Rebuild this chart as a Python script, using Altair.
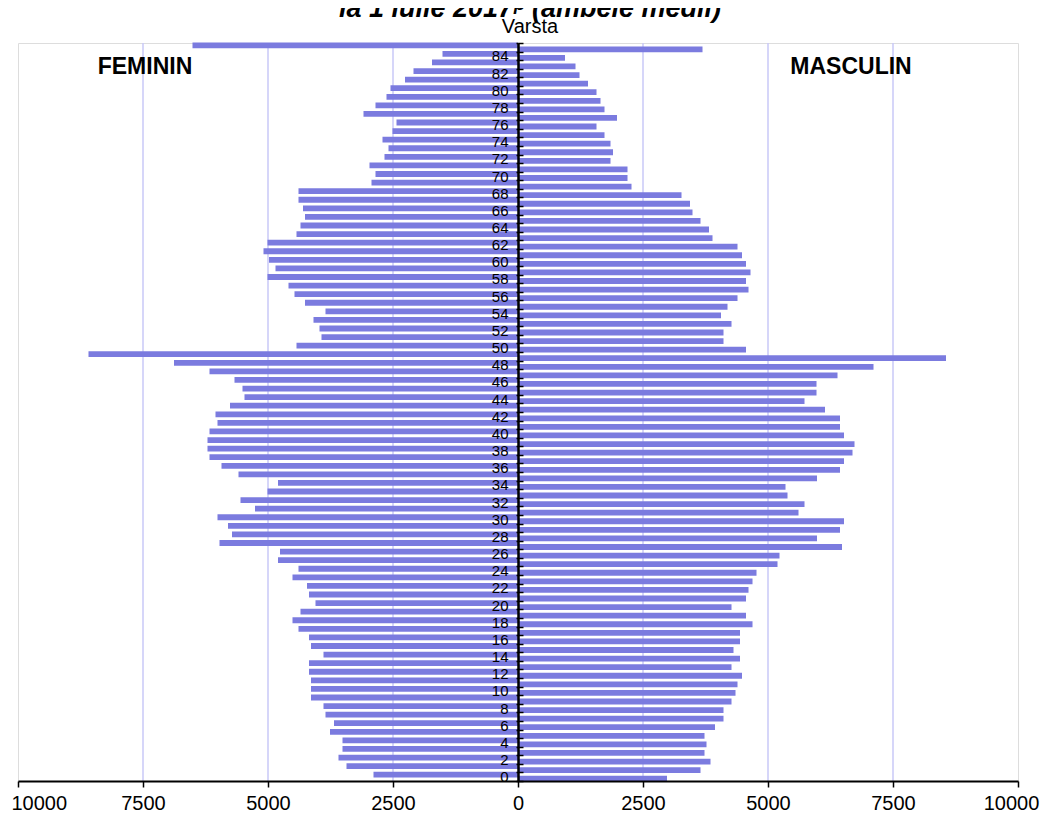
import altair as alt
import pandas as pd

# ---- data ----
ages = list(range(86))  # 85 stands for "85+"
female = [2890, 3430, 3590, 3510, 3510, 3760, 3680, 3850, 3890, 4140,
          4140, 4140, 4180, 4180, 3890, 4140, 4180, 4390, 4510, 4350,
          4050, 4180, 4220, 4510, 4390, 4800, 4760, 5970, 5720, 5800,
          6010, 5260, 5550, 5010, 4800, 5590, 5930, 6170, 6210, 6210,
          6170, 6010, 6050, 5760, 5470, 5510, 5670, 6170, 6880, 8590,
          4430, 3930, 3970, 4090, 3850, 4260, 4470, 4590, 5010, 4850,
          4980, 5090, 5010, 4430, 4350, 4260, 4300, 4390, 4390, 2930,
          2850, 2970, 2670, 2590, 2710, 2510, 2430, 3090, 2850, 2630,
          2550, 2260, 2090, 1720, 1510, 6510]
male = [2980, 3650, 3850, 3730, 3770, 3730, 3940, 4110, 4110, 4270,
        4350, 4390, 4480, 4270, 4440, 4310, 4440, 4440, 4690, 4560,
        4270, 4560, 4610, 4690, 4770, 5190, 5230, 6480, 5980, 6440,
        6520, 5610, 5730, 5390, 5350, 5980, 6440, 6520, 6690, 6730,
        6520, 6440, 6440, 6140, 5730, 5970, 5970, 6390, 7110, 8560,
        4560, 4110, 4110, 4270, 4060, 4190, 4390, 4610, 4560, 4650,
        4560, 4480, 4390, 3890, 3820, 3650, 3490, 3440, 3270, 2270,
        2190, 2190, 1850, 1900, 1850, 1730, 1570, 1980, 1730, 1650,
        1570, 1400, 1230, 1150, 940, 3690]
x_ticks = [-10000, -7500, -5000, -2500, 0, 2500, 5000, 7500, 10000]
grid_values = [-7500, -5000, -2500, 2500, 5000, 7500]
title_text = "la 1 iulie 2017ᵖ (ambele medii)"
axis_title = "Varsta"
side_labels = ["FEMININ", "MASCULIN"]

df = pd.DataFrame({
    "age": ages + ages,
    "sex": ["F"] * len(ages) + ["M"] * len(ages),
    "x": [-v for v in female] + male,
})
grid_df = pd.DataFrame({"x": grid_values})

BAR = "#7b7bdf"
FRAME = "#7b7bdf"
GRID = "#c9c9f7"
FONT = "Liberation Sans"

xscale = alt.Scale(domain=[-10000, 10000], nice=False, zero=True)
yscale = alt.Scale(paddingInner=0, paddingOuter=0)

x_axis = alt.Axis(
    values=x_ticks, labelExpr="abs(datum.value)", grid=False,
    domainColor="black", domainWidth=2, tickColor="black", tickWidth=1.5,
    tickSize=6, labelFont=FONT, labelFontSize=20, labelColor="black",
    labelPadding=6, labelFlush=False, labelOverlap=False,
    labelAlign={"condition": {"test": "datum.value <= -10000", "value": "left"},
                "value": "center"},
    labelOffset={"condition": {"test": "abs(datum.value) >= 10000", "value": -7},
                 "value": 0},
    title=None, zindex=1,
)
x_enc = alt.X("x:Q", scale=xscale, axis=x_axis)

grid = alt.Chart(grid_df).mark_rule(color=GRID, strokeWidth=1.5).encode(x=x_enc)

fem = alt.Chart(df).transform_filter("datum.sex == 'F'").mark_bar(
    color=BAR, height=5.8, yOffset=-2
).encode(
    x=x_enc,
    y=alt.Y("age:O", sort="descending", scale=yscale,
            axis=alt.Axis(orient="left", offset=-500, tickBand="extent",
                          labelExpr="(datum.value % 2 == 0 && datum.value < 85) ? datum.label : ''",
                          labelFont=FONT, labelFontSize=15, labelColor="black",
                          labelPadding=8, tickSize=2, tickColor="black", tickWidth=1.5,
                          domainColor="black", domainWidth=2, labelOverlap=False,
                          title=None, zindex=1)),
)

mal = alt.Chart(df).transform_filter("datum.sex == 'M'").mark_bar(
    color=BAR, height=5.8, yOffset=2
).encode(
    x=x_enc,
    y=alt.Y("age:O", sort="descending", scale=yscale,
            axis=alt.Axis(orient="right", offset=-500, tickBand="extent",
                          labels=False, tickSize=5, tickColor="black", tickWidth=1.5,
                          domainColor="black", domainWidth=2, title=None, zindex=1)),
)

def text_layer(txt, px, py, size, weight="normal", style="normal"):
    return alt.Chart(pd.DataFrame({"t": [txt]})).mark_text(
        font=FONT, fontSize=size, fontWeight=weight, fontStyle=style,
        color="black", align="center", baseline="alphabetic"
    ).encode(x=alt.value(px), y=alt.value(py), text="t:N")

title_layer = text_layer(title_text, 512, -26, 27, "bold", "italic")
varsta_layer = text_layer(axis_title, 512, -10, 20)
fem_label = text_layer(side_labels[0], 127, 31, 23, "bold")
mal_label = text_layer(side_labels[1], 833, 31, 23, "bold")

chart = alt.layer(grid, fem, mal, title_layer, varsta_layer, fem_label, mal_label).resolve_axis(
    y="independent"
).properties(
    width=1000, height=738,
    padding={"left": 10, "top": 35, "right": 22, "bottom": 34},
    autosize=alt.AutoSizeParams(type="none"),
).configure_view(
    stroke=FRAME, strokeWidth=2
).configure(background="white")

chart.save("out.html", embed_options={"renderer": "svg", "actions": False})
